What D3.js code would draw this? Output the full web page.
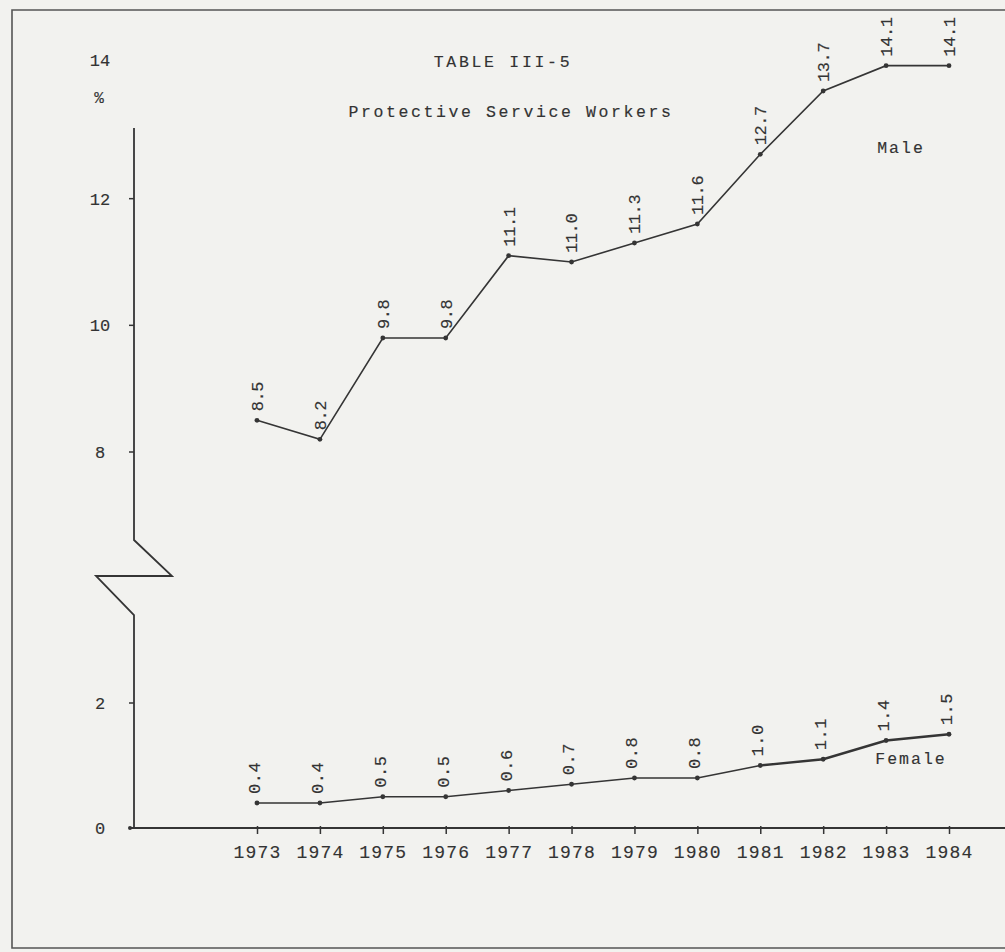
<!DOCTYPE html>
<html><head><meta charset="utf-8">
<script src="https://cdn.jsdelivr.net/npm/d3@7/dist/d3.min.js"></script>
<style>
html,body{margin:0;padding:0;background:#f2f2ef;}
svg{display:block;}
text{font-family:"Liberation Mono","DejaVu Sans Mono",monospace;fill:#333;stroke:#333;stroke-width:0.15px;}
</style></head>
<body>
<svg id="c" width="1005" height="952"></svg>
<script>
const years = [1973,1974,1975,1976,1977,1978,1979,1980,1981,1982,1983,1984];
const male = [8.5,8.2,9.8,9.8,11.1,11.0,11.3,11.6,12.7,13.7,14.1,14.1];
const female = [0.4,0.4,0.5,0.5,0.6,0.7,0.8,0.8,1.0,1.1,1.4,1.5];
const upperTicks = [8,10,12,14];
const lowerTicks = [0,2];
const title = "TABLE III-5";
const subtitle = "Protective Service Workers";
const seriesNames = ["Male","Female"];

const svg = d3.select("#c");
const ink = "#353535";

// frame
svg.append("path").attr("d","M1005,10 H12 V948 H1005").attr("fill","none").attr("stroke","#555").attr("stroke-width",1.6);

const x = d3.scaleLinear().domain([1973,1984]).range([257,949]);
const yU = d3.scaleLinear().domain([8,14]).range([452,72]);
const yL = d3.scaleLinear().domain([0,2]).range([828,703]);
const axX = 134;

// y axis with break
svg.append("path")
  .attr("d",`M${axX},128 V540 L172,576 H96 L${axX},615 V${yL(0)}`)
  .attr("fill","none").attr("stroke",ink).attr("stroke-width",1.8).attr("stroke-linejoin","miter");

// x axis
svg.append("line").attr("x1",130).attr("x2",1005).attr("y1",yL(0)).attr("y2",yL(0))
  .attr("stroke",ink).attr("stroke-width",2);
svg.append("circle").attr("cx",130).attr("cy",yL(0)).attr("r",2).attr("fill",ink);

const xAxis = svg.append("g").attr("transform",`translate(0,${yL(0)})`)
  .call(d3.axisBottom(x).tickValues(years).tickFormat(d3.format("d")).tickSize(6).tickSizeOuter(0));
xAxis.select(".domain").remove();
xAxis.selectAll(".tick line").attr("stroke",ink).attr("stroke-width",1.5).attr("y1",-2);
xAxis.selectAll(".tick text").attr("font-size",18).attr("letter-spacing",1.2)
  .attr("fill","#333").attr("y",17).attr("dy","0.71em")
  .attr("font-family","Liberation Mono, DejaVu Sans Mono, monospace");

// y ticks (small marks)
const tickMarks = [...upperTicks.filter(v=>v<14).map(v=>yU(v)), ...lowerTicks.filter(v=>v>0).map(v=>yL(v))];
svg.selectAll("line.yt").data(tickMarks).join("line").attr("class","yt")
  .attr("x1",axX-5).attr("x2",axX).attr("y1",d=>d).attr("y2",d=>d)
  .attr("stroke",ink).attr("stroke-width",1.5);

// y labels
const yLabels = [...upperTicks.map(v=>({v, y:yU(v) + (v===14?-12:0)})), ...lowerTicks.map(v=>({v, y:yL(v)}))];
svg.selectAll("text.yl").data(yLabels).join("text").attr("class","yl")
  .attr("x",100).attr("y",d=>d.y).attr("dy","0.35em").attr("text-anchor","middle")
  .attr("font-size",17).attr("letter-spacing",0).text(d=>d.v);
svg.append("text").attr("x",99).attr("y",103).attr("text-anchor","middle").attr("font-size",16).text("%");

// titles
svg.append("text").attr("x",503).attr("y",67).attr("text-anchor","middle")
  .attr("font-size",16.5).attr("letter-spacing",2.7).text(title);
svg.append("text").attr("x",511).attr("y",117).attr("text-anchor","middle")
  .attr("font-size",16.5).attr("letter-spacing",2.6).text(subtitle);

// lines
const lineM = d3.line().x((d,i)=>x(years[i])).y(d=>yU(d));
const lineF = d3.line().x((d,i)=>x(years[i])).y(d=>yL(d));
svg.append("path").attr("d",lineM(male)).attr("fill","none").attr("stroke",ink).attr("stroke-width",1.6);
svg.append("path").attr("d",lineF(female.slice(0,9))).attr("fill","none").attr("stroke",ink).attr("stroke-width",1.6);
svg.append("path").attr("d",d3.line().x((d,i)=>x(years[i+8])).y(d=>yL(d))(female.slice(8)))
  .attr("fill","none").attr("stroke",ink).attr("stroke-width",2.4);

// dots
svg.selectAll("circle.m").data(male).join("circle").attr("class","m")
  .attr("cx",(d,i)=>x(years[i])).attr("cy",d=>yU(d)).attr("r",2.4).attr("fill",ink);
svg.selectAll("circle.f").data(female).join("circle").attr("class","f")
  .attr("cx",(d,i)=>x(years[i])).attr("cy",d=>yL(d)).attr("r",2.4).attr("fill",ink);

// value labels (rotated)
const fmt = d3.format(".1f");
svg.selectAll("text.mv").data(male).join("text").attr("class","mv")
  .attr("transform",(d,i)=>`translate(${x(years[i])},${yU(d)-9}) rotate(-90)`)
  .attr("dy","0.35em").attr("font-size",17).attr("letter-spacing",-0.4).text(d=>fmt(d));
svg.selectAll("text.fv").data(female).join("text").attr("class","fv")
  .attr("transform",(d,i)=>`translate(${x(years[i])-3},${yL(d)-9}) rotate(-90)`)
  .attr("dy","0.35em").attr("font-size",17).attr("letter-spacing",0.5).text(d=>fmt(d));

// series labels
svg.append("text").attr("x",901).attr("y",153).attr("text-anchor","middle")
  .attr("font-size",16.5).attr("letter-spacing",2).text(seriesNames[0]);
svg.append("text").attr("x",911).attr("y",764).attr("text-anchor","middle")
  .attr("font-size",16.5).attr("letter-spacing",2).text(seriesNames[1]);
</script>
</body></html>
